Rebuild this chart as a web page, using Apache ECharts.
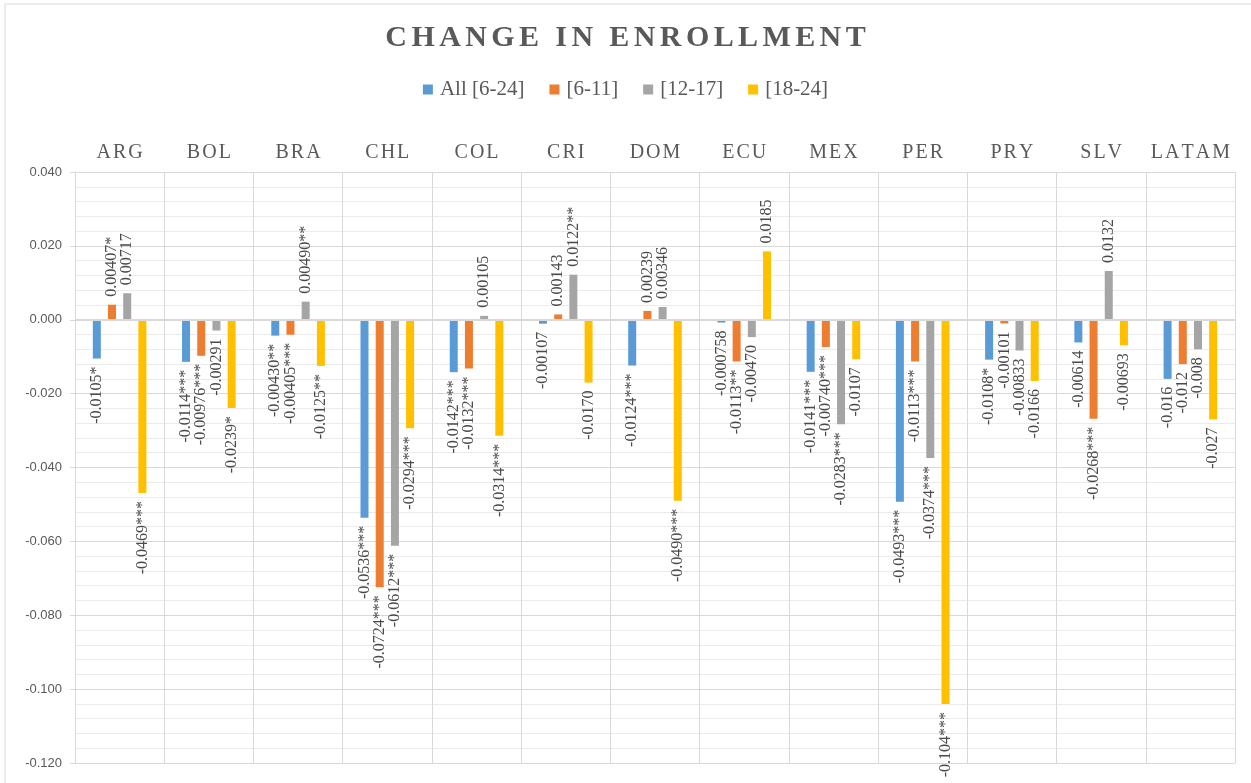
<!DOCTYPE html>
<html>
<head>
<meta charset="utf-8">
<title>Change in enrollment</title>
<script src="https://cdn.jsdelivr.net/npm/echarts@6/dist/echarts.min.js"></script>
<style>
  html, body { margin: 0; padding: 0; background: #fff; }
  #chart { width: 1251px; height: 783px; }
</style>
</head>
<body>
<div id="chart"></div>
<script>
var countries = ['ARG', 'BOL', 'BRA', 'CHL', 'COL', 'CRI', 'DOM', 'ECU', 'MEX', 'PER', 'PRY', 'SLV', 'LATAM'];
var seriesNames = ['All [6-24]', '[6-11]', '[12-17]', '[18-24]'];
var chartTitle = 'CHANGE IN ENROLLMENT';

// valores de cada grupo de edad
var allAges = [-0.0105, -0.0114, -0.0043, -0.0536, -0.0142, -0.00107, -0.0124, -0.000758, -0.0141, -0.0493, -0.0108, -0.00614, -0.016];
var age6to11 = [0.00407, -0.00976, -0.00405, -0.0724, -0.0132, 0.00143, 0.00239, -0.0113, -0.0074, -0.0113, -0.00101, -0.0268, -0.012];
var age12to17 = [0.00717, -0.00291, 0.0049, -0.0612, 0.00105, 0.0122, 0.00346, -0.0047, -0.0283, -0.0374, -0.00833, 0.0132, -0.008];
var age18to24 = [-0.0469, -0.0239, -0.0125, -0.0294, -0.0314, -0.017, -0.049, 0.0185, -0.0107, -0.104, -0.0166, -0.00693, -0.027];

// etiquetas con significancia
var allAgesLabels = ['-0.0105*', '-0.0114***', '-0.00430**', '-0.0536***', '-0.0142***', '-0.00107', '-0.0124***', '-0.000758', '-0.0141***', '-0.0493***', '-0.0108*', '-0.00614', '-0.016'];
var age6to11Labels = ['0.00407*', '-0.00976***', '-0.00405***', '-0.0724***', '-0.0132***', '0.00143', '0.00239', '-0.0113**', '-0.00740***', '-0.0113***', '-0.00101', '-0.0268***', '-0.012'];
var age12to17Labels = ['0.00717', '-0.00291', '0.00490**', '-0.0612***', '0.00105', '0.0122**', '0.00346', '-0.00470', '-0.0283***', '-0.0374***', '-0.00833', '0.0132', '-0.008'];
var age18to24Labels = ['-0.0469***', '-0.0239*', '-0.0125**', '-0.0294***', '-0.0314***', '-0.0170', '-0.0490***', '0.0185', '-0.0107', '-0.104***', '-0.0166', '-0.00693', '-0.027'];

var yTicks = ['0.040', '0.020', '0.000', '-0.020', '-0.040', '-0.060', '-0.080', '-0.100', '-0.120'];

var colors = ['#5B9BD5', '#ED7D31', '#A5A5A5', '#FFC000'];

var chart = echarts.init(document.getElementById('chart'));

/**
 * separa las letras para simular el espaciado del titulo
 */
function spaced(text, style) {
    var out = '';
    for (var i = 0; i < text.length; i++) {
        out += '{' + style + '|' + (text[i] === ' ' ? '\u00a0' : text[i]) + '}';
    }
    return out;
}

/**
 * arma los datos de una serie con la etiqueta arriba o abajo segun el signo
 */
function buildData(values, labels) {
    var data = [];
    for (var i = 0; i < values.length; i++) {
        var pos = values[i] >= 0;
        data.push({
            value: values[i],
            label: {
                position: pos ? 'top' : 'bottom',
                align: pos ? 'left' : 'right',
                formatter: labels[i]
            }
        });
    }
    return data;
}

var valueSets = [allAges, age6to11, age12to17, age18to24];
var labelSets = [allAgesLabels, age6to11Labels, age12to17Labels, age18to24Labels];

var series = [];
for (var s = 0; s < seriesNames.length; s++) {
    series.push({
        name: seriesNames[s],
        type: 'bar',
        barWidth: 8,
        barGap: '90%',
        itemStyle: { color: colors[s] },
        label: {
            show: true,
            rotate: 90,
            verticalAlign: 'middle',
            distance: 8,
            fontFamily: 'Liberation Serif',
            fontSize: 16,
            color: '#4a4a4a'
        },
        data: buildData(valueSets[s], labelSets[s])
    });
}

// linea del eje horizontal en cero
series[0].markLine = {
    silent: true,
    symbol: 'none',
    label: { show: false },
    lineStyle: { color: '#d9d9d9', width: 2, type: 'solid' },
    data: [{ yAxis: 0 }]
};

var option = {
    animation: false,
    backgroundColor: '#fff',
    graphic: [{
        type: 'rect',
        shape: { x: 5, y: 4, width: 1400, height: 900 },
        style: { fill: 'none', stroke: '#d9d9d9', lineWidth: 1 },
        silent: true
    }],
    title: {
        text: spaced(chartTitle, 't'),
        left: 'center',
        top: 23,
        padding: 0,
        textStyle: {
            rich: {
                t: {
                    fontFamily: 'Liberation Serif',
                    fontWeight: 'bold',
                    fontSize: 30,
                    color: '#595959',
                    padding: [0, 2.2, 0, 2.2]
                }
            }
        }
    },
    legend: {
        data: seriesNames,
        top: 79,
        left: 'center',
        padding: 0,
        itemWidth: 10,
        itemHeight: 10,
        itemGap: 25,
        icon: 'rect',
        textStyle: {
            fontFamily: 'Liberation Serif',
            fontSize: 21,
            color: '#595959',
            padding: [0, 0, 0, 2]
        }
    },
    grid: {
        left: 75,
        right: 16,
        top: 172,
        bottom: 20,
        containLabel: false
    },
    xAxis: {
        type: 'category',
        position: 'top',
        data: countries,
        axisLine: { show: false },
        axisTick: { show: false, interval: 0 },
        splitLine: { show: true, interval: 0, lineStyle: { color: '#d9d9d9' } },
        axisLabel: {
            interval: 0,
            hideOverlap: false,
            margin: 9,
            formatter: function (v) {
                return spaced(v, 'c');
            },
            rich: {
                c: {
                    fontFamily: 'Liberation Serif',
                    fontSize: 20,
                    color: '#595959',
                    padding: [0, 1, 0, 1]
                }
            }
        }
    },
    yAxis: {
        type: 'value',
        min: -0.12,
        max: 0.04,
        interval: 0.02,
        axisLine: { show: true, lineStyle: { color: '#d9d9d9' } },
        axisTick: { show: true, length: 5, lineStyle: { color: '#d9d9d9' } },
        splitLine: { show: true, lineStyle: { color: '#d9d9d9' } },
        minorTick: { show: false, splitNumber: 5 },
        minorSplitLine: { show: true, lineStyle: { color: '#ebebeb' } },
        axisLabel: {
            margin: 13,
            fontFamily: 'Liberation Sans',
            fontSize: 13,
            color: '#595959',
            formatter: function (v) {
                var idx = Math.round((0.04 - v) / 0.02);
                return yTicks[idx];
            }
        }
    },
    series: series
};

chart.setOption(option);
</script>
</body>
</html>
